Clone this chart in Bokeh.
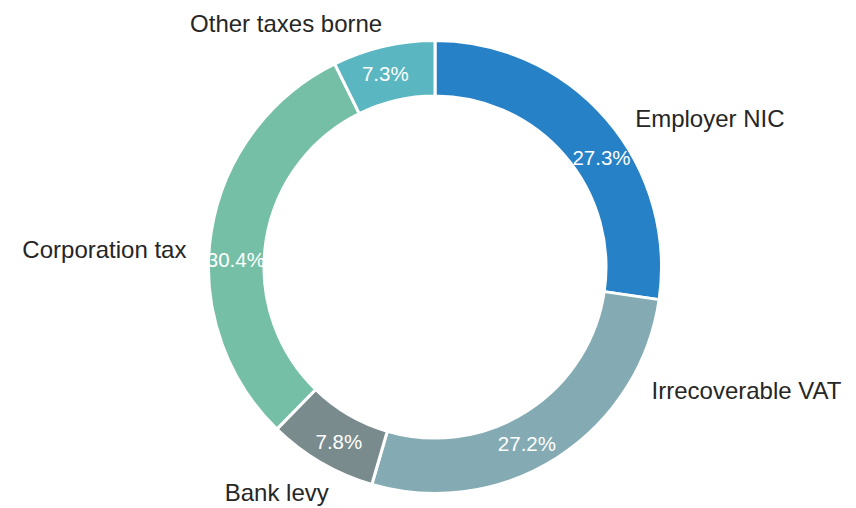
import numpy as np
from bokeh.plotting import figure
from bokeh.models import ColumnDataSource, Range1d
from bokeh.embed import file_html
from bokeh.resources import INLINE
from bokeh.core.properties import value

# ---- data (clockwise from 12 o'clock) ----
categories = ["Employer NIC", "Irrecoverable VAT", "Bank levy", "Corporation tax", "Other taxes borne"]
shares = [27.3, 27.2, 7.8, 30.4, 7.3]
colors = ["#2681c7", "#84abb3", "#7a8b8e", "#76bfa7", "#5ab6c0"]

# ---- layout constants ----
R_OUT = 226.5
R_IN = 171.0
LABEL_DIST = 1.1
PCT_DIST = 0.88
label_nudge_deg = [-4.3, 27.6, 5.0, 5.0, -0.9]
pct_nudge_deg = [-7.5, -5.3, 1.4, 6.9, 1.3]

vals = np.array(shares, dtype=float)
frac = vals / vals.sum()
cum = np.concatenate([[0.0], np.cumsum(frac)])
start_deg = 90 - cum[1:] * 360   # anticlockwise from start to end
end_deg = 90 - cum[:-1] * 360
mid_deg = (start_deg + end_deg) / 2

wedges = ColumnDataSource(dict(
    x=[0] * len(vals), y=[0] * len(vals),
    start=np.radians(start_deg), end=np.radians(end_deg),
    color=colors,
))

lab_ang = np.radians(mid_deg + np.array(label_nudge_deg))
lx = LABEL_DIST * R_OUT * np.cos(lab_ang)
ly = LABEL_DIST * R_OUT * np.sin(lab_ang)
labels = ColumnDataSource(dict(
    x=lx, y=ly, text=categories,
    align=["left" if v > 0 else "right" for v in lx],
))

pct_ang = np.radians(mid_deg + np.array(pct_nudge_deg))
pcts = ColumnDataSource(dict(
    x=PCT_DIST * R_OUT * np.cos(pct_ang),
    y=PCT_DIST * R_OUT * np.sin(pct_ang),
    text=[f"{v:.1f}%" for v in shares],
))

W, H = 856, 508
cx, cy = 434.5, 266.5
p = figure(width=W, height=H, output_backend="svg", toolbar_location=None,
           x_range=Range1d(-cx, W - cx), y_range=Range1d(cy - H, cy),
           min_border=0)
p.axis.visible = False
p.grid.visible = False
p.outline_line_color = None
p.background_fill_color = "white"
p.border_fill_color = "white"

p.annular_wedge(x="x", y="y", inner_radius=R_IN, outer_radius=R_OUT,
                start_angle="start", end_angle="end", fill_color="color",
                line_color="white", line_width=3, source=wedges)

p.text(x="x", y="y", text="text", source=labels, text_align="align",
       text_baseline="middle", text_font=value("Liberation Sans"),
       text_font_size="24px", text_color="#262626")

p.text(x="x", y="y", text="text", source=pcts, text_align="center",
       text_baseline="middle", text_font=value("Liberation Sans"),
       text_font_size="20.5px", text_color="white")

open("out.html", "w").write(file_html(p, INLINE))
